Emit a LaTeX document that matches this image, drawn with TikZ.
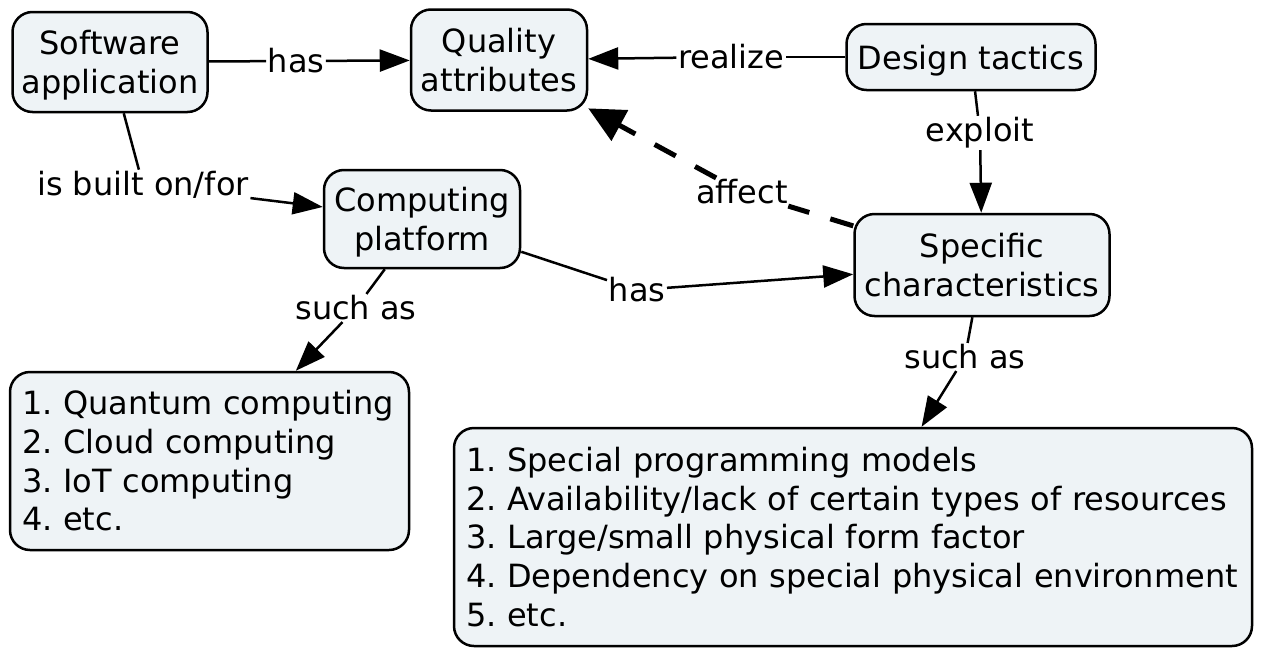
\documentclass[tikz,border=0pt]{standalone}
\usepackage{fontspec}
\setmainfont{DejaVu Sans}
\usetikzlibrary{arrows.meta}
\definecolor{boxfill}{HTML}{EEF3F6}
\frenchspacing
\begin{document}
\begin{tikzpicture}[x=1pt,y=-1pt,
  concept/.style={draw=black,line width=2.5pt,fill=boxfill,rounded corners=20pt,align=center,inner sep=4pt,text depth=0pt,font=\fontsize{32}{38.5}\selectfont},
  listbox/.style={draw=black,line width=2.5pt,fill=boxfill,rounded corners=20pt,align=left,inner xsep=12pt,inner ysep=0pt,font=\fontsize{32}{38.7}\selectfont},
  lab/.style={inner sep=1.5pt,font=\fontsize{32}{38.5}\selectfont},
  link/.style={line width=2.5pt,draw=black},
  tip/.style={-{Triangle[length=30pt,width=22pt]}},
  dtip/.style={-{Triangle[length=36pt,width=34pt]}}
]
\useasboundingbox (0,0) rectangle (1266,664);
% concept nodes
\node[concept,minimum width=195pt,minimum height=100pt] (sw) at (110,62) {Software\\application};
\node[concept,minimum width=176pt,minimum height=101pt] (qa) at (499,60) {Quality\\attributes};
\node[concept,minimum width=249pt,minimum height=66pt] (dt) at (971,57) {Design tactics};
\node[concept,minimum width=196pt,minimum height=98pt] (cp) at (422,219) {Computing\\platform};
\node[concept,minimum width=255pt,minimum height=102pt] (sc) at (982,265) {Specific\\characteristics};
\node[listbox,minimum height=178pt,text width=375pt] (l1) at (209.5,461) {1. Quantum computing\\2. Cloud computing\\3. IoT computing\\4. etc.};
\node[listbox,text width=774pt,minimum height=218pt] (l2) at (853,537) {1. Special programming models\\2. Availability/lack of certain types of resources\\3. Large/small physical form factor\\4. Dependency on special physical environment\\5. etc.};
% link labels
\node[lab] (has1) at (296,61) {has};
\node[lab] (real) at (731,57) {realize};
\node[lab] (built) at (143,185) {is built on/for};
\node[lab] (expl) at (980,133) {exploit};
\node[lab] (aff) at (742,192) {affect};
\node[lab] (has2) at (637,290) {has};
\node[lab] (such1) at (356,308) {such as};
\node[lab] (such2) at (965,357) {such as};
% connectors
\draw[link] (sw) -- (has1);
\draw[link,tip] (has1) -- (qa);
\draw[link] (dt) -- (real);
\draw[link,tip] (real) -- (qa);
\draw[link] (sw) -- (built);
\draw[link,tip] (built) -- (cp);
\draw[link] (dt) -- (expl);
\draw[link,tip] (expl) -- (sc);
\draw[link,line width=5pt,dash pattern=on 24pt off 22pt] (sc) -- (aff);
\draw[link,line width=5pt,dash pattern=on 24pt off 22pt,dtip] (aff) -- (qa);
\draw[link] (cp) -- (has2);
\draw[link,tip] (has2) -- (sc);
\draw[link] (cp) -- (such1);
\draw[link,tip] (such1) -- (l1);
\draw[link] (sc) -- (such2);
\draw[link,tip] (such2) -- (l2);
\end{tikzpicture}
\end{document}
